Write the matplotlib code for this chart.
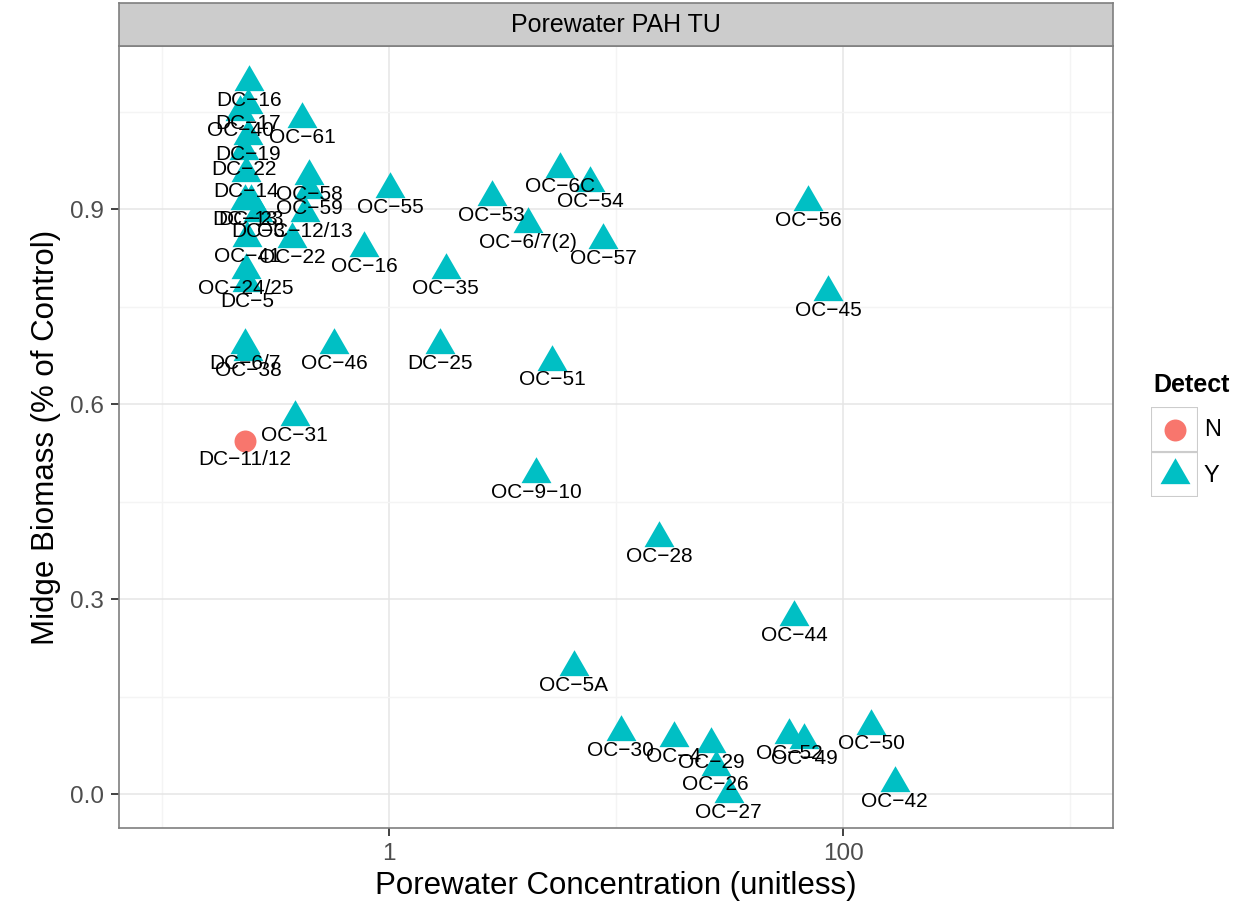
import matplotlib
matplotlib.use('Agg')
import matplotlib.pyplot as plt
from matplotlib.patches import Rectangle
from matplotlib.ticker import FixedLocator, NullFormatter

plt.rcParams['font.family'] = ['Liberation Sans', 'DejaVu Sans']

# site labels, porewater concentration (x) and midge biomass (y)
sites = ['DC-16', 'DC-17', 'OC-40', 'OC-61', 'DC-19', 'DC-22', 'DC-14', 'OC-58',
         'OC-59', 'DC-13', 'DC-23', 'DC-3', 'OC-12/13', 'OC-41', 'OC-22', 'OC-16',
         'OC-24/25', 'DC-5', 'DC-6/7', 'OC-38', 'OC-46', 'OC-31', 'DC-11/12',
         'OC-55', 'OC-35', 'DC-25', 'OC-53', 'OC-6C', 'OC-54', 'OC-6/7(2)', 'OC-57',
         'OC-51', 'OC-9-10', 'OC-28', 'OC-5A', 'OC-44', 'OC-56', 'OC-45', 'OC-30',
         'OC-4', 'OC-29', 'OC-26', 'OC-27', 'OC-52', 'OC-49', 'OC-50', 'OC-42']
conc = [0.242, 0.24, 0.221, 0.414, 0.24, 0.229, 0.235, 0.444,
        0.444, 0.232, 0.247, 0.265, 0.427, 0.237, 0.374, 0.776,
        0.235, 0.237, 0.232, 0.24, 0.573, 0.385, 0.232,
        1.01, 1.78, 1.68, 2.84, 5.67, 7.68, 4.09, 8.77,
        5.22, 4.44, 15.5, 6.53, 60.8, 70.1, 85.8, 10.5,
        18.0, 26.2, 27.5, 31.4, 57.8, 67.3, 133, 169]
biomass = [1.095, 1.060, 1.049, 1.038, 1.012, 0.989, 0.955, 0.951,
           0.929, 0.912, 0.912, 0.894, 0.894, 0.855, 0.854, 0.840,
           0.806, 0.786, 0.691, 0.680, 0.691, 0.580, 0.543,
           0.931, 0.806, 0.691, 0.918, 0.962, 0.940, 0.877, 0.852,
           0.665, 0.492, 0.394, 0.195, 0.272, 0.911, 0.772, 0.095,
           0.086, 0.077, 0.042, 0.0, 0.091, 0.083, 0.105, 0.017]
detect = ['Y'] * 22 + ['N'] + ['Y'] * 24

red = '#F8766D'
teal = '#00BFC4'
tri = [(0, 0.577), (-0.5, -0.289), (0.5, -0.289)]

W, H = 1259, 911
fig = plt.figure(figsize=(W / 100, H / 100), dpi=100)
ax = fig.add_axes([119 / W, 1 - 828 / H, (1113 - 119) / W, (828 - 46) / H])

ax.set_xscale('log')
ax.set_xlim(0.0647, 1546)
ax.set_ylim(-0.052, 1.151)
ax.xaxis.set_major_locator(FixedLocator([1, 100]))
ax.set_xticklabels(['1', '100'])
ax.xaxis.set_minor_locator(FixedLocator([0.1, 10, 1000]))
ax.xaxis.set_minor_formatter(NullFormatter())
ax.set_yticks([0, 0.3, 0.6, 0.9])
ax.set_yticklabels(['0.0', '0.3', '0.6', '0.9'])
ax.yaxis.set_minor_locator(FixedLocator([0.15, 0.45, 0.75, 1.05]))
ax.grid(which='major', color='#E5E5E5', lw=1.1)
ax.grid(which='minor', color='#F4F4F4', lw=1.0)
ax.set_axisbelow(True)
for s in ax.spines.values():
    s.set_color('#7F7F7F')
    s.set_linewidth(1.2)
ax.tick_params(which='major', length=6, width=1.3, color='#333333',
               labelsize=17.5, labelcolor='#4D4D4D', pad=5)
ax.tick_params(which='minor', length=0)

# points
xn = [c for c, d in zip(conc, detect) if d == 'N']
yn = [b for b, d in zip(biomass, detect) if d == 'N']
xy = [c for c, d in zip(conc, detect) if d == 'Y']
yy = [b for b, d in zip(biomass, detect) if d == 'Y']
ax.scatter(xn, yn, s=250, marker='o', color=red, linewidths=0, zorder=2)
ax.scatter(xy, yy, s=620, marker=tri, color=teal, linewidths=0, zorder=2)

for lab, c, b in zip(sites, conc, biomass):
    ax.annotate(lab.replace('-', '\u2212'), (c, b), xytext=(0, -13),
                textcoords='offset points', ha='center', va='center',
                fontsize=15, color='black', zorder=3)

ax.set_xlabel('Porewater Concentration (unitless)', fontsize=22.5, labelpad=4)
ax.set_ylabel('Midge Biomass (% of Control)', fontsize=22.5, labelpad=6)

# facet strip
sax = fig.add_axes([119 / W, 1 - 46 / H, (1113 - 119) / W, 43 / H])
sax.set_facecolor('#CCCCCC')
sax.set_xticks([])
sax.set_yticks([])
for s in sax.spines.values():
    s.set_color('#7F7F7F')
    s.set_linewidth(1.2)
sax.text(0.5, 0.5, 'Porewater PAH TU', ha='center', va='center', fontsize=18,
         transform=sax.transAxes)

# legend
fig.text(1153 / W, 1 - 385 / H, 'Detect', ha='left', va='center',
         fontsize=18, fontweight='bold')
lax = fig.add_axes([1151 / W, 1 - 497 / H, 47 / W, 90 / H])
lax.set_xlim(0, 1)
lax.set_ylim(0, 2)
lax.axis('off')
for y0 in (0, 1):
    lax.add_patch(Rectangle((0, y0), 1, 1, facecolor='white',
                            edgecolor='#CCCCCC', lw=1.5))
lax.scatter([0.5], [1.5], s=250, marker='o', color=red, linewidths=0, zorder=3)
lax.scatter([0.5], [0.5], s=620, marker=tri, color=teal, linewidths=0, zorder=3)
fig.text(1204 / W, 1 - 430 / H, 'N', ha='left', va='center', fontsize=17)
fig.text(1204 / W, 1 - 476 / H, 'Y', ha='left', va='center', fontsize=17)

fig.savefig('out.png', dpi=100)
